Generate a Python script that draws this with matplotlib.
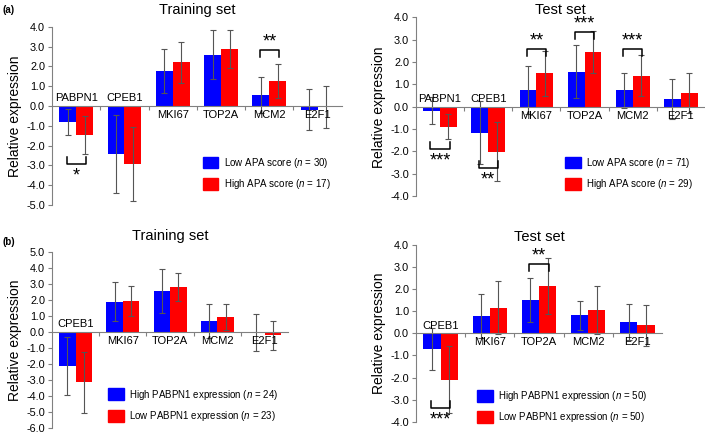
import numpy as np
import matplotlib
matplotlib.use("Agg")
import matplotlib.pyplot as plt
from matplotlib.patches import Patch

plt.rcParams['font.family'] = ['Liberation Sans', 'DejaVu Sans']
plt.rcParams['mathtext.fontset'] = 'custom'
plt.rcParams['mathtext.it'] = 'Liberation Sans:italic'
plt.rcParams['mathtext.rm'] = 'Liberation Sans'
plt.rcParams['axes.unicode_minus'] = False

BLUE = '#0000ff'
RED = '#ff0000'

# (a) Training set: low vs high APA score
a_genes = ['PABPN1', 'CPEB1', 'MKI67', 'TOP2A', 'MCM2', 'E2F1']
a_train_low = [-0.82, -2.42, 1.76, 2.60, 0.54, -0.18]
a_train_low_sd = [0.65, 1.97, 1.10, 1.26, 0.91, 1.03]
a_train_high = [-1.46, -2.94, 2.20, 2.89, 1.26, -0.05]
a_train_high_sd = [0.97, 1.87, 1.06, 0.95, 0.84, 1.08]
a_train_sig = [(0, '*', -2.94), (4, '**', 2.82)]

# (a) Test set
a_test_low = [-0.18, -1.16, 0.75, 1.57, 0.73, 0.34]
a_test_low_sd = [0.60, 1.42, 1.08, 1.20, 0.80, 0.88]
a_test_high = [-0.90, -2.01, 1.49, 2.46, 1.39, 0.60]
a_test_high_sd = [0.56, 1.33, 1.00, 0.94, 0.93, 0.90]
a_test_sig = [(0, '***', -1.91), (1, '**', -2.76), (2, '**', 2.57),
              (3, '***', 3.33), (4, '***', 2.57)]

# (b) Training set: high vs low PABPN1 expression
b_genes = ['CPEB1', 'MKI67', 'TOP2A', 'MCM2', 'E2F1']
b_train_high = [-2.14, 1.91, 2.55, 0.68, -0.04]
b_train_high_sd = [1.82, 1.20, 1.38, 1.06, 1.15]
b_train_low = [-3.15, 1.95, 2.82, 0.95, -0.21]
b_train_low_sd = [1.93, 0.95, 0.90, 0.80, 0.90]
b_train_sig = []

# (b) Test set
b_test_high = [-0.72, 0.78, 1.50, 0.81, 0.50]
b_test_high_sd = [0.96, 0.99, 1.00, 0.65, 0.81]
b_test_low = [-2.09, 1.16, 2.15, 1.04, 0.36]
b_test_low_sd = [1.52, 1.21, 1.27, 1.09, 0.93]
b_test_sig = [(0, '***', -3.38), (2, '**', 3.11)]

fig = plt.figure(figsize=(7.05, 4.34), dpi=100)


def panel(rect, genes, v1, s1, v2, s2, sig, ylim, title, tpad, labels, leg_xy):
    ax = fig.add_axes(rect)
    x = np.arange(len(genes))
    w = 0.35
    ekw = dict(ecolor='#555555', elinewidth=0.8, capsize=2.5, capthick=0.8)
    ax.bar(x - w / 2, v1, w, color=BLUE, yerr=s1, error_kw=ekw, zorder=2)
    ax.bar(x + w / 2, v2, w, color=RED, yerr=s2, error_kw=ekw, zorder=2)
    ax.set_xlim(-0.5, len(genes) - 0.5)
    ax.set_ylim(*ylim)
    ax.set_yticks(np.arange(ylim[0], ylim[1] + 0.5, 1.0))
    ax.yaxis.set_major_formatter(matplotlib.ticker.FormatStrFormatter('%.1f'))
    for s in ['top', 'right']:
        ax.spines[s].set_visible(False)
    ax.spines['bottom'].set_position(('data', 0))
    ax.spines['bottom'].set_color('#808080')
    ax.spines['left'].set_color('#808080')
    ax.set_xticks(x[:-1] + 0.5)
    ax.set_xticklabels([])
    ax.tick_params(axis='x', direction='out', length=3, color='#808080')
    ax.tick_params(axis='y', direction='out', length=3, color='#808080',
                   labelsize=7.8, pad=2)
    ax.set_ylabel('Relative expression', fontsize=10, labelpad=3)
    ax.set_title(title, fontsize=10.5, pad=tpad)

    for i, g in enumerate(genes):
        if g in ('PABPN1', 'CPEB1'):
            ax.annotate(g, (i, 0), xytext=(0, 2), textcoords='offset points',
                        ha='center', va='bottom', fontsize=8, zorder=3)
        else:
            ax.annotate(g, (i, 0), xytext=(0, -3), textcoords='offset points',
                        ha='center', va='top', fontsize=8, zorder=3)

    # significance brackets
    px = (ylim[1] - ylim[0]) / (rect[3] * 434)
    tick = 7 * px
    for i, stars, yb in sig:
        x0, x1 = i - 0.2, i + 0.2
        if yb > 0:
            ax.plot([x0, x0, x1, x1], [yb - tick, yb, yb, yb - tick],
                    color='black', lw=1.1, zorder=4)
            ax.text(i, yb + 8 * px, stars, ha='center', va='center',
                    fontsize=13, zorder=4)
        else:
            ax.plot([x0, x0, x1, x1], [yb + tick, yb, yb, yb + tick],
                    color='black', lw=1.1, zorder=4)
            ax.text(i, yb - 12 * px, stars, ha='center', va='center',
                    fontsize=13, zorder=4)

    handles = [Patch(color=BLUE, label=labels[0]),
               Patch(color=RED, label=labels[1])]
    ax.legend(handles=handles, loc='upper left', bbox_to_anchor=leg_xy,
              frameon=False, fontsize=7, handlelength=1.6, handleheight=1.5,
              handletextpad=0.6, labelspacing=0.75, borderpad=0,
              borderaxespad=0)
    return ax


panel([0.0738, 0.528, 0.411, 0.410], a_genes, a_train_low, a_train_low_sd,
      a_train_high, a_train_high_sd, a_train_sig, (-5, 4), 'Training set', 9,
      ['Low APA score ($\\mathit{n}$ = 30)', 'High APA score ($\\mathit{n}$ = 17)'],
      (0.52, 0.276))
panel([0.590, 0.548, 0.410, 0.412], a_genes, a_test_low, a_test_low_sd,
      a_test_high, a_test_high_sd, a_test_sig, (-4, 4), 'Test set', 2,
      ['Low APA score ($\\mathit{n}$ = 71)', 'High APA score ($\\mathit{n}$ = 29)'],
      (0.516, 0.226))
panel([0.0738, 0.0145, 0.335, 0.404], b_genes, b_train_high, b_train_high_sd,
      b_train_low, b_train_low_sd, b_train_sig, (-6, 5), 'Training set', 9,
      ['High PABPN1 expression ($\\mathit{n}$ = 24)',
       'Low PABPN1 expression ($\\mathit{n}$ = 23)'],
      (0.237, 0.229))
panel([0.590, 0.028, 0.349, 0.408], b_genes, b_test_high, b_test_high_sd,
      b_test_low, b_test_low_sd, b_test_sig, (-4, 4), 'Test set', 3,
      ['High PABPN1 expression ($\\mathit{n}$ = 50)',
       'Low PABPN1 expression ($\\mathit{n}$ = 50)'],
      (0.248, 0.185))

fig.text(0.004, 0.988, '(a)', fontsize=7, fontweight='bold', va='top')
fig.text(0.004, 0.455, '(b)', fontsize=7, fontweight='bold', va='top')

fig.savefig('out.png', dpi=100)
